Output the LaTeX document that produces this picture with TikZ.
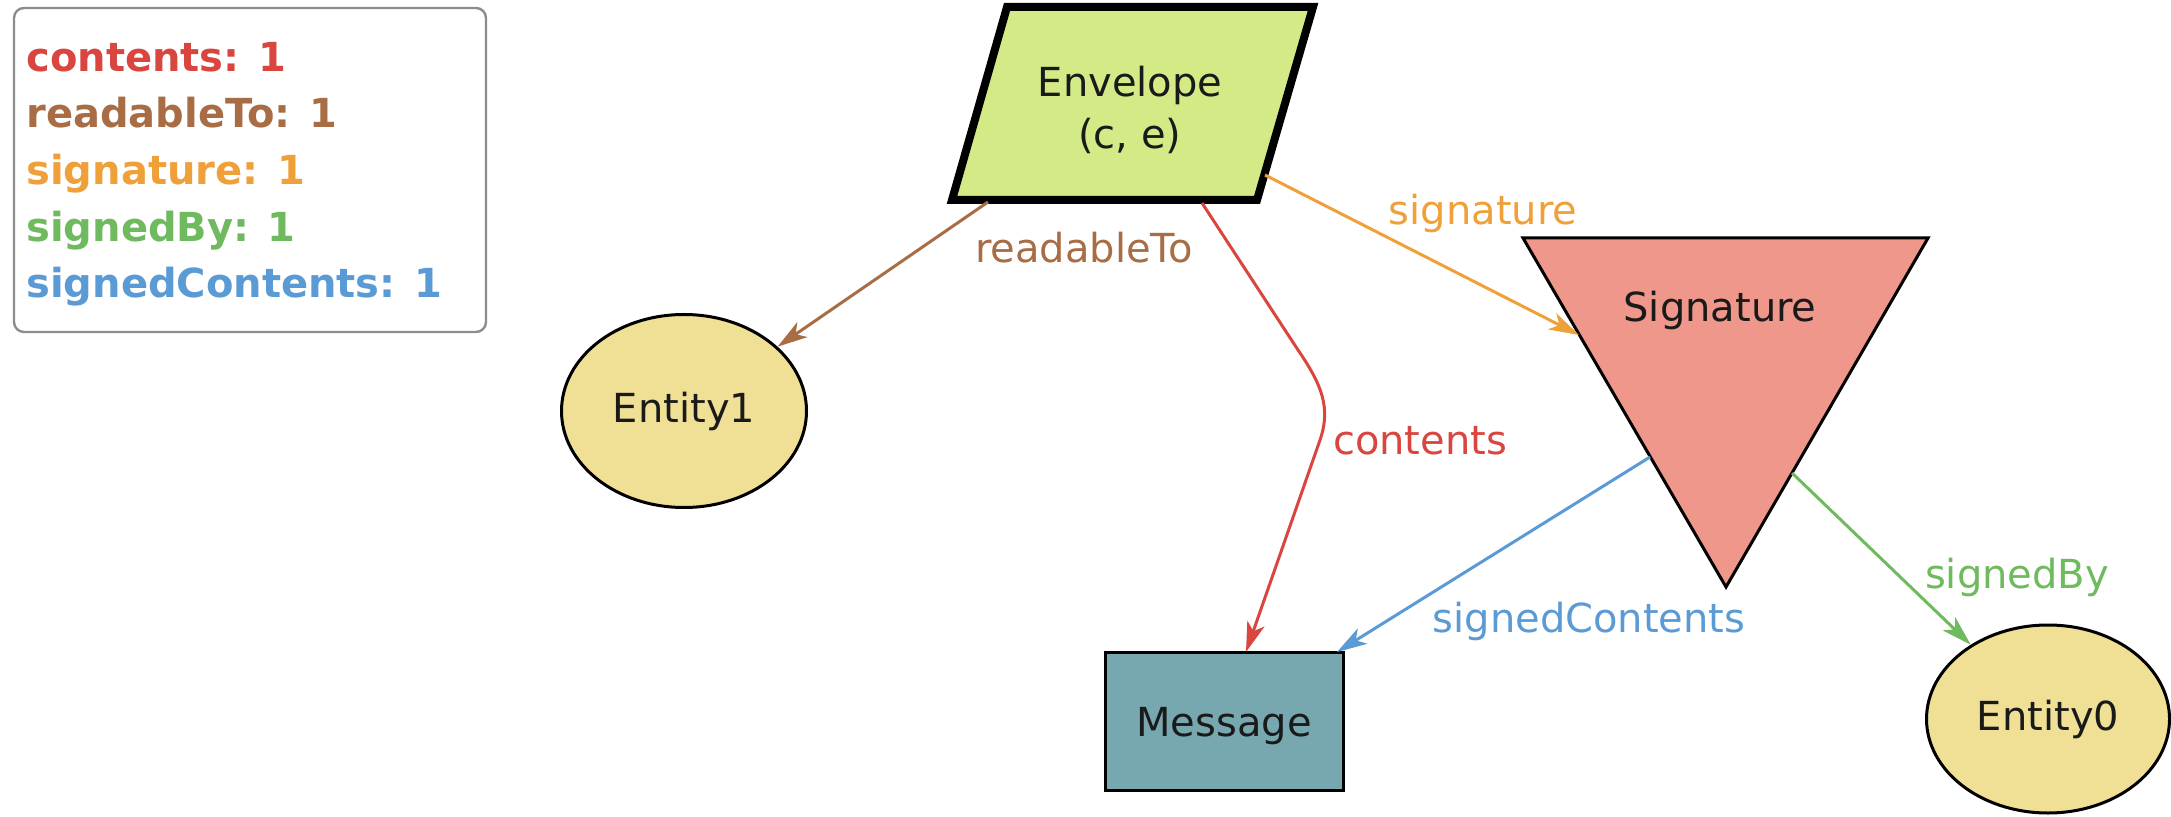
\documentclass[tikz,border=0pt]{standalone}
\usepackage{fontspec}
\setmainfont{DejaVu Sans}
\usetikzlibrary{arrows.meta,shapes.geometric}
\definecolor{cRed}{HTML}{D9453F}
\definecolor{cBrown}{HTML}{A86D44}
\definecolor{cOrange}{HTML}{F0A038}
\definecolor{cGreen}{HTML}{6FBA5E}
\definecolor{cBlue}{HTML}{5B9BD5}
\definecolor{fEnv}{HTML}{D3EA87}
\definecolor{fEnt}{HTML}{F0E096}
\definecolor{fSig}{HTML}{EE978A}
\definecolor{fMsg}{HTML}{77A8B0}
\definecolor{cText}{HTML}{1A1A1A}
\tikzset{
  lbl/.style={font=\fontsize{20}{24}\selectfont, text=cText},
  entity/.style={ellipse, draw=black, line width=1.5pt, fill=fEnt, inner sep=0pt, lbl},
  msgbox/.style={rectangle, draw=black, line width=1.5pt, fill=fMsg, inner sep=0pt, lbl},
  edge/.style={line width=1.5pt, -{Stealth[length=15pt,width=9pt,inset=4pt]}},
  elabel/.style={font=\fontsize{20}{24}\selectfont, anchor=base, inner sep=0pt},
  legendtxt/.style={font=\fontsize{20}{24}\selectfont\bfseries, anchor=base west, inner sep=0pt},
}
\begin{document}
\begin{tikzpicture}[x=0.5pt,y=-0.5pt]
\useasboundingbox (0,0) rectangle (2171,817);
% legend
\draw[draw=black!45, line width=1.2pt, rounded corners=5pt, fill=white] (14,8) rectangle (486,332);
\node[legendtxt, text=cRed] (lg1) at (26,72) {contents: 1};
\node[legendtxt, text=cBrown] (lg2) at (26,128) {readableTo: 1};
\node[legendtxt, text=cOrange] (lg3) at (26,185) {signature: 1};
\node[legendtxt, text=cGreen] (lg4) at (26,242) {signedBy: 1};
\node[legendtxt, text=cBlue] (lg5) at (26,298) {signedContents: 1};
% Envelope
\draw[line width=4pt, fill=fEnv, line join=miter] (1007,7) -- (1313,7) -- (1257,200) -- (952,200) -- cycle;
\node[lbl, align=center, inner sep=0pt] (env) at (1130,110) {Envelope\\[2pt](c, e)};
% Signature
\draw[line width=1.5pt, fill=fSig, line join=miter] (1523,238) -- (1928,238) -- (1726,587) -- cycle;
\node[lbl, anchor=base, inner sep=0pt] (sig) at (1720,322) {Signature};
% other nodes
\node[entity, minimum width=122.5pt, minimum height=96.5pt] (ent1) at (684,411) {Entity1};
\node[entity, minimum width=121.5pt, minimum height=94pt] (ent0) at (2048,719) {Entity0};
\node[msgbox, minimum width=119pt, minimum height=69pt] (msg) at (1224,721) {};
\node[lbl, anchor=base, inner sep=0pt] (msgt) at (1224,736) {Message};
% connector endpoints
\coordinate (envBL) at (988,202);
\coordinate (envB) at (1202,203);
\coordinate (envR) at (1265,175);
\coordinate (sigL) at (1579,335);
\coordinate (sigLL) at (1650,457);
\coordinate (sigR) at (1792,473);
\coordinate (msgT) at (1246,652);
\coordinate (msgTR) at (1337,652);
\coordinate (cb1) at (1298,350);
\coordinate (cb2) at (1320,440);
% edges
\draw[edge, cBrown] (envBL) -- (ent1);
\draw[edge, cRed] (envB) -- (cb1) .. controls (1322,385) and (1331,408) .. (cb2) -- (msgT);
\draw[edge, cOrange] (envR) -- (sigL);
\draw[edge, cBlue] (sigLL) -- (msgTR);
\draw[edge, cGreen] (sigR) -- (ent0);
% edge labels
\node[elabel, text=cBrown] (lrt) at (1084,263) {readableTo};
\node[elabel, text=cRed] (lct) at (1420,455) {contents};
\node[elabel, text=cOrange] (lsg) at (1483,225) {signature};
\node[elabel, text=cBlue] (lsc) at (1589,632) {signedContents};
\node[elabel, text=cGreen] (lsb) at (2017,588) {signedBy};
\end{tikzpicture}
\end{document}
